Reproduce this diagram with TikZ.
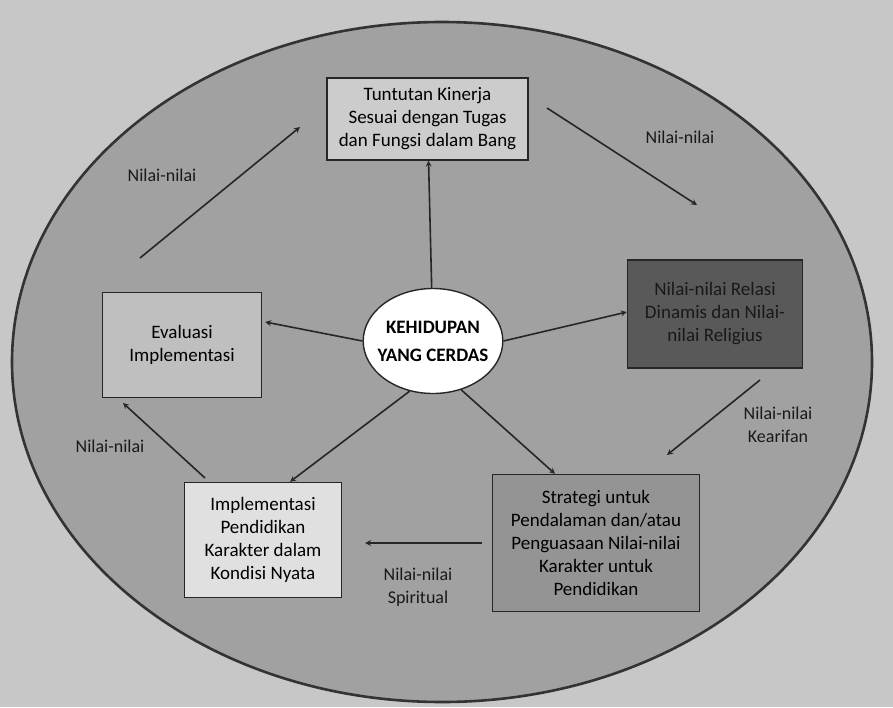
\documentclass[tikz,border=0pt]{standalone}
\usepackage{fontspec}
\setmainfont{Carlito}
\usetikzlibrary{shapes.geometric,positioning}
\usetikzlibrary{calc}

\begin{document}
\begin{tikzpicture}[>=stealth,x=1pt,y=-1pt,
    box/.style={draw=black!85,line width=1.4pt,align=center,inner sep=2pt,
      font=\fontsize{19}{23}\selectfont},
    lbl/.style={align=center,font=\fontsize{18}{23}\selectfont,text=black!90},
    arr/.style={->,line width=1.6pt,draw=black!85}]
    \useasboundingbox (0,0) rectangle (893,707);
    % Paper
    \fill[black!22] (0,0) rectangle (893,707);
    % Big ellipse
    \draw[fill=black!37,line width=2.6pt,draw=black!80] (442,362) ellipse [x radius=430,y radius=340];
    % Core
    \node[ellipse,draw=black!85,line width=1.4pt,fill=white,inner xsep=-6pt,
      minimum height=105pt,align=center,
      font=\bfseries\fontsize{19}{28}\selectfont] (core) at (433,341) {KEHIDUPAN\\YANG CERDAS};
    % Boxes
    \node[box,fill=black!20,minimum width=201pt,minimum height=82pt] (kinerja) at (427.5,119)
      {Tuntutan Kinerja\\Sesuai dengan Tugas\\dan Fungsi dalam Bang};
    \node[box,fill=black!65,text=black!90,minimum width=175pt,minimum height=108pt] (relasi) at (715,314)
      {Nilai-nilai Relasi\\Dinamis dan Nilai-\\nilai Religius};
    \node[box,fill=black!42,minimum width=207pt,minimum height=137pt] (strategi) at (596,543)
      {Strategi untuk\\Pendalaman dan/atau\\Penguasaan Nilai-nilai\\Karakter untuk\\Pendidikan};
    \node[box,fill=black!12,minimum width=157pt,minimum height=115pt] (implementasi) at (263,540)
      {Implementasi\\Pendidikan\\Karakter dalam\\Kondisi Nyata};
    \node[box,fill=black!25,minimum width=159pt,minimum height=105pt] (evaluasi) at (182,345)
      {Evaluasi\\Implementasi};
    % Spokes from the core
    \draw[arr] (core) -- (kinerja);
    \draw[arr] (core.west) -- ([xshift=3pt,yshift=23pt]evaluasi.east);
    \draw[arr] (core.east) -- ([yshift=2pt]relasi.west);
    \draw[arr] (core.245) -- ([xshift=27pt]implementasi.north);
    \draw[arr] (core.300) -- ([xshift=-41pt]strategi.north);
    % Outer cycle
    \coordinate (k1) at (547,108);
    \coordinate (k2) at (697,205);
    \draw[arr] (k1) -- (k2);
    \node[lbl] (nilai1) at (680,137) {Nilai-nilai};
    \coordinate (r1) at (760,380);
    \coordinate (r2) at (667,455);
    \draw[arr] (r1) -- (r2);
    \node[lbl] (nilai2) at (778,425) {Nilai-nilai\\Kearifan};
    \draw[arr,shorten <=10pt,shorten >=23pt] (strategi.west) -- (strategi.west -| implementasi.east);
    \node[lbl] (nilai3) at (418,587) {Nilai-nilai\\Spiritual};
    \coordinate (i1) at (205,478);
    \coordinate (i2) at (123,403);
    \draw[arr] (i1) -- (i2);
    \node[lbl] (nilai4) at (110,446) {Nilai-nilai};
    \coordinate (e1) at (140,258);
    \coordinate (e2) at (300,127);
    \draw[arr] (e1) -- (e2);
    \node[lbl] (nilai5) at (162,175) {Nilai-nilai};
\end{tikzpicture}
\end{document}
